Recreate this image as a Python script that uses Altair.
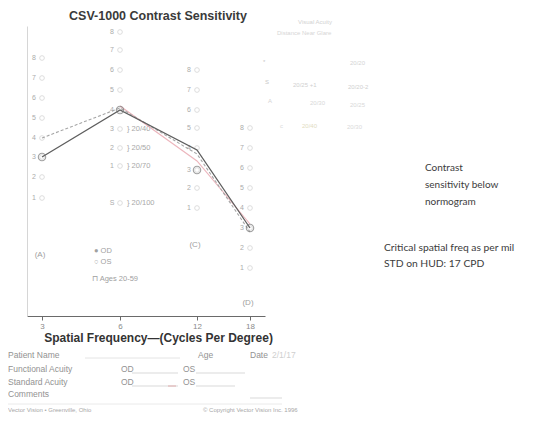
import altair as alt
import pandas as pd

# ---------------- data ----------------
freqs = [3, 6, 12, 18]
freq_labels = ["3", "6", "12", "18"]
row_numbers = ["8", "7", "6", "5", "4", "3", "2", "1"]
levels_3 = [2.58, 2.38, 2.18, 1.98, 1.78, 1.59, 1.39, 1.18]
levels_6 = [2.84, 2.66, 2.46, 2.26, 2.06, 1.87, 1.68, 1.50]
levels_12 = [2.46, 2.26, 2.06, 1.88, 1.68, 1.46, 1.28, 1.08]
levels_18 = [1.88, 1.68, 1.48, 1.28, 1.08, 0.88, 0.68, 0.48]
sample_row_label = ["S"]
sample_row_level = [1.13]
snellen_labels = ["} 20/40", "} 20/50", "} 20/70", "} 20/100"]
snellen_levels = [1.87, 1.68, 1.50, 1.13]
row_letters = ["(A)", "(C)", "(D)"]
row_letter_freqs = [3, 12, 18]
row_letter_levels = [0.61, 0.71, 0.13]
od_levels = [1.59, 2.06, 1.66, 0.88]
os_levels = [1.78, 2.08, 1.62, 0.84]
norm_freqs = [6, 12, 18]
norm_levels = [2.10, 1.55, 0.92]
circled_levels = [1.59, 2.06, 1.46, 0.88]

# ---------------- tables ----------------
cols = []
for f, lv in zip(freqs, [levels_3, levels_6, levels_12, levels_18]):
    for r, l in zip(row_numbers, lv):
        cols.append({"freq": f, "level": l, "row": r})
cols.append({"freq": 6, "level": sample_row_level[0], "row": sample_row_label[0]})
patches = pd.DataFrame(cols)

snellen = pd.DataFrame({"freq": [6] * len(snellen_labels), "level": snellen_levels, "t": snellen_labels})
letters = pd.DataFrame({"freq": row_letter_freqs, "level": row_letter_levels, "t": row_letters})
od = pd.DataFrame({"freq": freqs, "level": od_levels})
osd = pd.DataFrame({"freq": freqs, "level": os_levels})
norm = pd.DataFrame({"freq": norm_freqs, "level": norm_levels})
circled = pd.DataFrame({"freq": freqs, "level": circled_levels})

PL, PT = 27, 26  # page position of plot origin
W, H = 238, 290

xs = alt.Scale(type="linear", domain=[2.4, 3, 6, 12, 18, 21], range=[0, 15, 93, 170, 223, 238], nice=False)
ys = alt.Scale(domain=[0, 2.9], nice=False, zero=False)

x_enc = alt.X("freq:Q", scale=xs,
              axis=alt.Axis(values=freqs, labelExpr="datum.value", title="Spatial Frequency\u2014(Cycles Per Degree)",
                            grid=False, domainColor="#6a6a6a", tickColor="#6a6a6a", tickSize=4,
                            labelFontSize=8, labelColor="#8a8a8a", labelPadding=2, labelFont="Liberation Sans",
                            titleFont="Liberation Sans", titleFontSize=12, titleFontWeight="bold",
                            titleColor="#333333", titlePadding=2, titleX=158 - PL))
y_enc = alt.Y("level:Q", scale=ys,
              axis=alt.Axis(labels=False, ticks=False, title=None, grid=False, domainColor="#d6d6d6"))


def note(txt, px, py, size=8.5, color="#929292", weight="normal", align="left", font="Liberation Sans"):
    return alt.Chart(pd.DataFrame({"t": [txt]})).mark_text(
        align=align, baseline="middle", fontSize=size, color=color, fontWeight=weight, font=font
    ).encode(text="t:N", x=alt.value(px - PL), y=alt.value(py - PT))


def hline(px1, px2, py, color="#cfcfcf"):
    return alt.Chart(pd.DataFrame({"a": [0]})).mark_rule(color=color, strokeWidth=0.8).encode(
        x=alt.value(px1 - PL), x2=alt.value(px2 - PL), y=alt.value(py - PT))


base_circles = alt.Chart(patches).mark_point(shape="circle", size=22, color="#c4c4c4", strokeWidth=0.8, filled=False).encode(x=x_enc, y=y_enc)
row_digits = alt.Chart(patches).mark_text(fontSize=7, color="#ababab", dx=-8, font="Liberation Sans").encode(
    x=alt.X("freq:Q", scale=xs), y=alt.Y("level:Q", scale=ys), text="row:N")
snellen_text = alt.Chart(snellen).mark_text(fontSize=7.5, color="#a8a8a8", align="left", dx=7, font="Liberation Sans").encode(
    x=alt.X("freq:Q", scale=xs), y=alt.Y("level:Q", scale=ys), text="t:N")
letter_text = alt.Chart(letters).mark_text(fontSize=8, color="#a0a0a0", font="Liberation Sans", dx=-2).encode(
    x=alt.X("freq:Q", scale=xs), y=alt.Y("level:Q", scale=ys), text="t:N")
norm_line = alt.Chart(norm).mark_line(color="#e7a3ab", strokeWidth=1.1, opacity=0.8).encode(
    x=alt.X("freq:Q", scale=xs), y=alt.Y("level:Q", scale=ys))
os_line = alt.Chart(osd).mark_line(color="#a6a6a6", strokeWidth=1.1, strokeDash=[3, 2]).encode(
    x=alt.X("freq:Q", scale=xs), y=alt.Y("level:Q", scale=ys))
od_line = alt.Chart(od).mark_line(color="#5e5e5e", strokeWidth=1.3).encode(
    x=alt.X("freq:Q", scale=xs), y=alt.Y("level:Q", scale=ys))
circ = alt.Chart(circled).mark_point(shape="circle", size=55, color="#7a7a7a", strokeWidth=1.1, filled=False).encode(
    x=alt.X("freq:Q", scale=xs), y=alt.Y("level:Q", scale=ys))

notes = [
    note("CSV-1000 Contrast Sensitivity", 158, 16, size=12.5, weight="bold", color="#3a3a3a", align="center"),
    note("\u25cf OD", 94, 251, size=7.5, color="#a0a0a0"),
    note("\u25cb OS", 94, 262, size=7.5, color="#a0a0a0"),
    note("\u2293 Ages 20-59", 92, 279, size=7.5, color="#a0a0a0"),
    # faint top-right summary table
    note("Visual Acuity", 298, 22, size=6, color="#d2d2d2"),
    note("Distance    Near    Glare", 277, 33, size=6, color="#d6d6d6"),
    note("*", 263, 62, size=6, color="#c8c8c8"),
    note("20/20", 350, 63, size=6, color="#d4d4d4"),
    note("S", 265, 82, size=6, color="#c8c8c8"),
    note("20/25 +1", 293, 85, size=6, color="#d0d0d0"),
    note("20/20-2", 348, 87, size=6, color="#d0d0d0"),
    note("A", 268, 101, size=6, color="#d4d4d4"),
    note("20/30", 310, 103, size=6, color="#d8d8d8"),
    note("20/25", 350, 105, size=6, color="#d8d8d8"),
    note("c", 280, 126, size=6, color="#dadada"),
    note("20/40", 302, 126, size=6, color="#e2dcbf"),
    note("20/30", 347, 127, size=6, color="#dadada"),
    # right annotations
    note("Contrast", 425, 168, size=10, color="#3c3c3c", font="Lato"),
    note("sensitivity below", 425, 185, size=10, color="#3c3c3c", font="Lato"),
    note("normogram", 425, 202, size=10, color="#3c3c3c", font="Lato"),
    note("Critical spatial freq as per mil", 384, 248, size=10.3, color="#3c3c3c", font="Lato"),
    note("STD on HUD: 17 CPD", 384, 264, size=10.3, color="#3c3c3c", font="Lato"),
    # form
    note("Patient Name", 8, 355),
    note("Age", 198, 355),
    note("Date", 250, 355),
    note("2/1/17", 272, 355, color="#cfcfcf"),
    note("Functional Acuity", 8, 369),
    note("OD", 121, 369),
    note("OS", 183, 369),
    note("Standard Acuity", 8, 382),
    note("OD", 121, 382),
    note("OS", 183, 382),
    note("Comments", 8, 394),
    note("Vector Vision \u2022 Greenville, Ohio", 8, 410, size=6, color="#a8a8a8"),
    note("\u00a9 Copyright Vector Vision Inc. 1996", 203, 410, size=6, color="#a8a8a8"),
    hline(85, 180, 358, "#dddddd"),
    hline(132, 178, 373),
    hline(196, 245, 373),
    hline(132, 178, 386),
    hline(196, 235, 386),
    hline(168, 176, 386, "#e0a0a0"),
    hline(250, 282, 398),
    hline(8, 282, 404, "#e4e4e4"),
]

chart = alt.layer(
    base_circles, row_digits, snellen_text, letter_text, norm_line, os_line, od_line, circ, *notes
).properties(
    width=W, height=H,
    autosize=alt.AutoSizeParams(type="none"),
    padding={"left": PL - 8, "top": PT - 8, "right": 527 - (PL - 8) - W, "bottom": 405 - (PT - 8) - H},
    background="white",
).configure_view(stroke=None)

chart.save("out.html", embed_options={"renderer": "svg", "actions": False})
